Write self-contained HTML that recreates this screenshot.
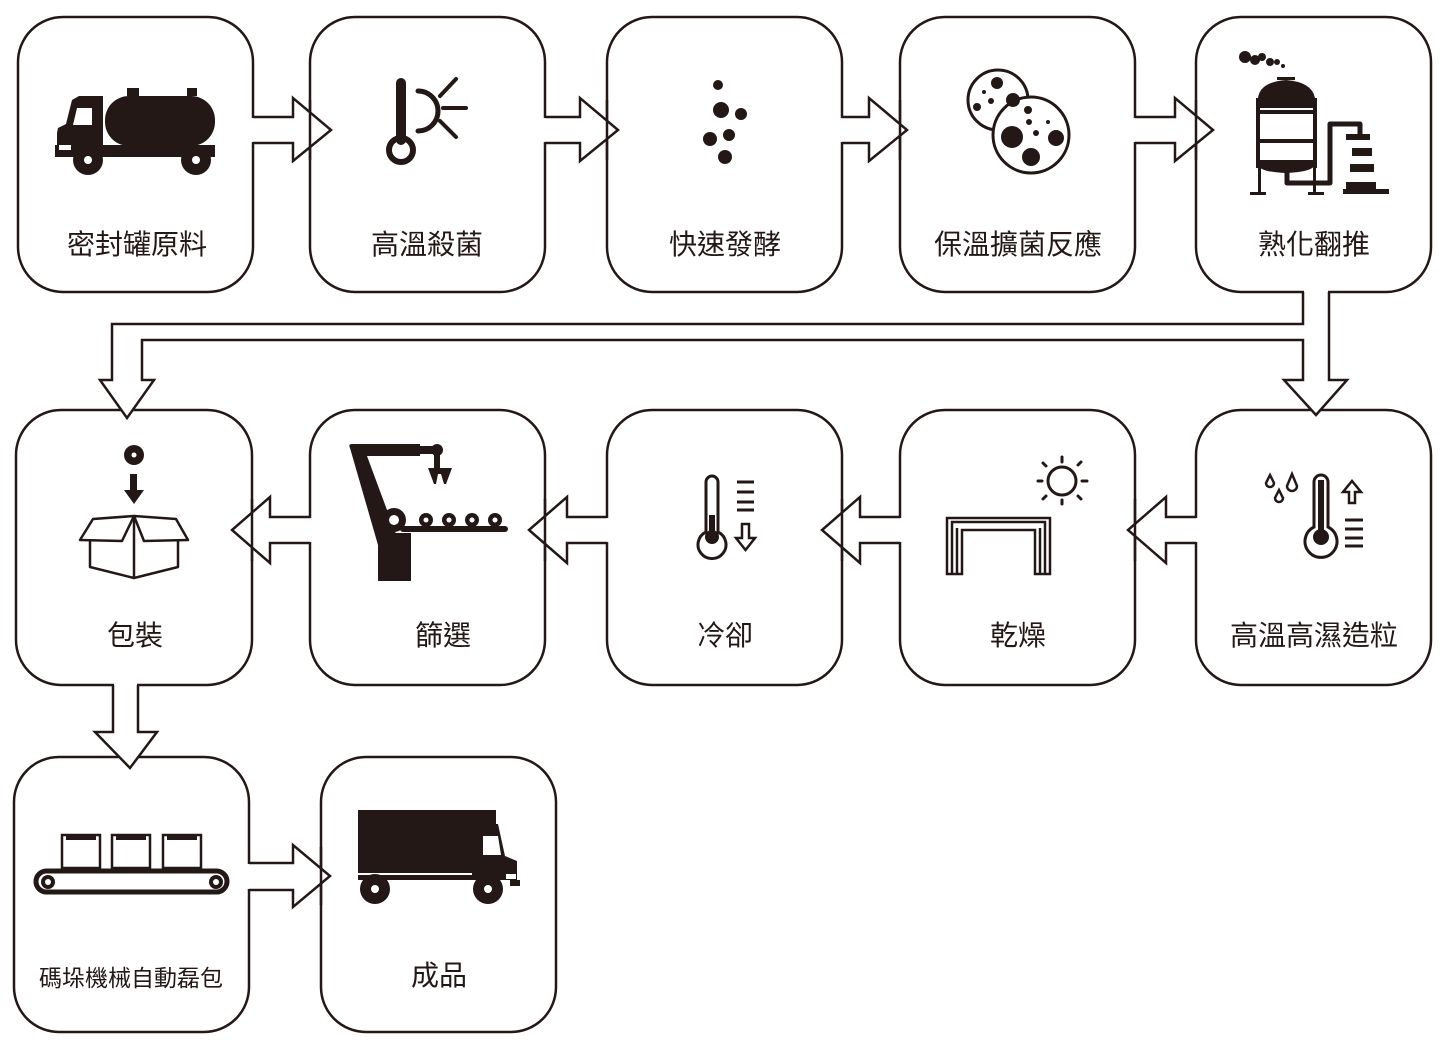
<!DOCTYPE html>
<html><head><meta charset="utf-8"><style>
html,body{margin:0;padding:0;background:#fff}
svg{display:block}
text{font-family:"Liberation Sans","Noto Sans CJK TC",sans-serif;fill:#231815;text-anchor:middle}
</style></head><body>
<svg width="1446" height="1050" viewBox="0 0 1446 1050" xmlns="http://www.w3.org/2000/svg">
<g fill="#fff" stroke="#231815" stroke-width="2.5">
<rect x="18" y="17" width="235" height="275" rx="45"/>
<rect x="310" y="17" width="235" height="275" rx="45"/>
<rect x="607" y="17" width="235" height="275" rx="45"/>
<rect x="900" y="17" width="235" height="275" rx="45"/>
<rect x="1196" y="17" width="235" height="275" rx="45"/>
<rect x="16" y="410" width="236" height="275" rx="45"/>
<rect x="310" y="410" width="235" height="275" rx="45"/>
<rect x="607" y="410" width="235" height="275" rx="45"/>
<rect x="900" y="410" width="235" height="275" rx="45"/>
<rect x="1196" y="410" width="235" height="275" rx="45"/>
<rect x="14" y="757" width="235" height="275" rx="45"/>
<rect x="321" y="757" width="235" height="275" rx="45"/>
</g>
<!-- arrow fills -->
<g fill="#fff" stroke="none">
<polygon points="250,118 293,118 293,98 331,130 293,161 293,142 250,142"/>
<polygon points="542,118 580,118 580,98 618,130 580,161 580,142 542,142"/>
<polygon points="839,118 869,118 869,98 907,130 869,161 869,142 839,142"/>
<polygon points="1132,118 1175,118 1175,98 1213,130 1175,161 1175,142 1132,142"/>
<polygon points="313,518 270,518 270,497 232,530 270,563 270,542 313,542"/>
<polygon points="610,518 567,518 567,497 529,530 567,563 567,542 610,542"/>
<polygon points="903,518 860,518 860,497 822,530 860,563 860,542 903,542"/>
<polygon points="1199,518 1166,518 1166,497 1128,530 1166,563 1166,542 1199,542"/>
<polygon points="114,682 137,682 137,732 157,732 130,768 95,732 114,732"/>
<polygon points="1304,288 1328,288 1328,380 1347,380 1316,415 1284,380 1304,380 1304,339 141,339 141,380 154,380 127,418 100,380 113,380 113,325 1304,325"/>
<polygon points="246,864 293,864 293,845 330,876 293,907 293,889 246,889"/>
</g>
<!-- arrow strokes -->
<g fill="none" stroke="#231815" stroke-width="2.5" stroke-linejoin="miter">
<polyline points="253,117 293,117 293,98 331,130 293,161 293,143 253,143"/>
<polyline points="545,117 580,117 580,98 618,130 580,161 580,143 545,143"/>
<polyline points="842,117 869,117 869,98 907,130 869,161 869,143 842,143"/>
<polyline points="1135,117 1175,117 1175,98 1213,130 1175,161 1175,143 1135,143"/>
<polyline points="310,517 270,517 270,497 232,530 270,563 270,543 310,543"/>
<polyline points="607,517 567,517 567,497 529,530 567,563 567,543 607,543"/>
<polyline points="900,517 860,517 860,497 822,530 860,563 860,543 900,543"/>
<polyline points="1196,517 1166,517 1166,497 1128,530 1166,563 1166,543 1196,543"/>
<polyline points="113,685 113,732 95,732 130,768 157,732 138,732 138,685"/>
<polyline points="1303,292 1303,324 112,324 112,380 100,380 127,418 154,380 142,380 142,340 1303,340 1303,380 1284,380 1316,415 1347,380 1329,380 1329,292"/>
<polyline points="249,863 293,863 293,845 330,876 293,907 293,890 249,890"/>
</g>
<!-- box edges showing through arrowheads -->
<g stroke="#231815" stroke-width="2.5">
<line x1="310" y1="100" x2="310" y2="160"/><line x1="607" y1="100" x2="607" y2="160"/>
<line x1="900" y1="100" x2="900" y2="160"/><line x1="1196" y1="100" x2="1196" y2="160"/>
<line x1="252" y1="499" x2="252" y2="561"/><line x1="545" y1="499" x2="545" y2="561"/>
<line x1="842" y1="499" x2="842" y2="561"/><line x1="1135" y1="499" x2="1135" y2="561"/>
<line x1="321" y1="847" x2="321" y2="905"/>
</g>

<g font-size="28">
<text x="137" y="254">密封罐原料</text>
<text x="427" y="254">高溫殺菌</text>
<text x="725" y="254">快速發酵</text>
<text x="1018" y="254">保溫擴菌反應</text>
<text x="1314" y="254">熟化翻推</text>
<text x="135" y="645">包裝</text>
<text x="443" y="645">篩選</text>
<text x="725" y="645">冷卻</text>
<text x="1018" y="645">乾燥</text>
<text x="1314" y="645">高溫高濕造粒</text>
<text x="439" y="985">成品</text>
</g>
<text x="131" y="986" font-size="23">碼垛機械自動磊包</text>

<g fill="#231815" stroke="none">
<rect x="105" y="96" width="110" height="50" rx="24"/>
<rect x="127" y="88" width="12" height="8"/><rect x="187" y="88" width="10" height="8"/>
<path d="M79 96 H103 V148 H57 V133 L58 128 L66 124 L72 100 Z"/>
<rect x="55" y="145" width="160" height="12"/>
<circle cx="88" cy="160" r="15"/><circle cx="196" cy="160" r="15"/>
</g>
<g fill="#fff"><path d="M77 108 H92 V125 H73 Z"/><rect x="59" y="145" width="12" height="5"/><circle cx="88" cy="160" r="4"/><circle cx="196" cy="160" r="4"/></g>

<g stroke="#231815" fill="none" stroke-linecap="round">
<line x1="401" y1="83" x2="401" y2="140" stroke-width="10"/>
<circle cx="401" cy="150" r="12" stroke-width="6"/>
<path d="M418 91 A20 20 0 0 1 418 131" stroke-width="5"/>
<line x1="440" y1="96" x2="456" y2="79" stroke-width="4"/>
<line x1="443" y1="108" x2="466" y2="108" stroke-width="4"/>
<line x1="440" y1="121" x2="456" y2="137" stroke-width="4"/>
</g>

<g fill="#231815">
<circle cx="718" cy="85" r="5"/><circle cx="721" cy="110" r="8"/><circle cx="741" cy="114" r="6"/>
<circle cx="710" cy="139" r="7"/><circle cx="729" cy="135" r="6"/><circle cx="725" cy="157" r="7"/>
</g>

<g stroke="#231815" stroke-width="3" fill="#fff">
<circle cx="998" cy="100" r="30"/>
<circle cx="1031" cy="135" r="38"/>
</g>
<g fill="#231815">
<circle cx="997" cy="83" r="6"/><circle cx="984" cy="92" r="2"/><circle cx="991" cy="101" r="3"/><circle cx="977" cy="107" r="4"/><circle cx="1013" cy="100" r="7"/>
<circle cx="1028" cy="110" r="4"/><circle cx="1029" cy="122" r="3"/><circle cx="1048" cy="122" r="2"/><circle cx="1012" cy="137" r="11"/><circle cx="1036" cy="133" r="3"/><circle cx="1056" cy="138" r="8"/><circle cx="1031" cy="157" r="9"/>
</g>

<g fill="#231815">
<circle cx="1245" cy="57" r="6"/><circle cx="1255" cy="60" r="5"/><circle cx="1262" cy="57" r="4"/><circle cx="1270" cy="62" r="4"/><circle cx="1277" cy="62" r="3"/><circle cx="1283" cy="66" r="2"/>
<rect x="1277" y="77" width="18" height="3"/>
<path d="M1258 98 Q1260 82 1286 80 Q1312 82 1315 98 V108 H1258 Z"/>
<rect x="1258" y="110" width="57" height="4"/><rect x="1258" y="139" width="57" height="4"/>
<path d="M1258 160 H1315 V165 Q1312 172 1286 173 Q1260 172 1258 165 Z"/>
<rect x="1256" y="98" width="4" height="70"/><rect x="1313" y="98" width="4" height="70"/>
<rect x="1258" y="160" width="3" height="33"/><rect x="1313" y="160" width="3" height="33"/>
<rect x="1250" y="192" width="16" height="3"/><rect x="1308" y="192" width="16" height="3"/>
<rect x="1346" y="134" width="24" height="6"/><rect x="1352" y="148" width="20" height="8"/><rect x="1350" y="164" width="24" height="8"/><rect x="1346" y="182" width="30" height="8"/><rect x="1343" y="189" width="46" height="5"/>
</g>
<path d="M1287 172 V183 H1330 V124 H1360 V134" stroke="#231815" stroke-width="5" fill="none" stroke-linejoin="round"/>

<g fill="#231815"><circle cx="134" cy="455" r="10"/><rect x="130" y="474" width="7" height="18"/><polygon points="124,490 144,490 134,504"/></g>
<circle cx="134" cy="455" r="2.5" fill="#fff"/>
<g stroke="#231815" stroke-width="2.5" fill="none" stroke-linejoin="round">
<path d="M90 540 V567 L134 578 L178 567 V540"/>
<path d="M134 515 V578"/>
<path d="M93 519 L134 516 L176 519 L188 540 L144 541 L134 516 L122 541 L80 540 Z"/>
</g>

<g fill="#231815">
<path d="M350 448 Q348 444 352 444 H420 V456 H367 L400 545 H378 Z"/>
<rect x="418" y="446" width="16" height="8"/><circle cx="437" cy="450" r="6"/>
<rect x="434" y="452" width="6" height="18"/>
<path d="M428 468 H452 L446 484 H444 L441 474 H438 L436 484 H434 Z"/>
<rect x="378" y="533" width="33" height="48"/>
<circle cx="394" cy="520" r="12"/>
<rect x="400" y="526" width="108" height="6" rx="3"/>
<circle cx="426" cy="520" r="7"/><circle cx="449" cy="520" r="7"/><circle cx="472" cy="520" r="7"/><circle cx="495" cy="520" r="7"/>
</g>
<g fill="#fff"><circle cx="394" cy="520" r="5"/><circle cx="426" cy="520" r="2.5"/><circle cx="449" cy="520" r="2.5"/><circle cx="472" cy="520" r="2.5"/><circle cx="495" cy="520" r="2.5"/></g>

<g stroke="#231815" fill="none" stroke-width="3">
<path d="M706 532 V482 A6 6 0 0 1 718 482 V532 A14 14 0 1 1 706 532 Z"/>
<line x1="737" y1="482" x2="754" y2="482"/><line x1="737" y1="492" x2="754" y2="492"/><line x1="737" y1="502" x2="754" y2="502"/><line x1="737" y1="510" x2="754" y2="510"/>
<path d="M742 524 H749 V538 H755 L745.5 550 L736 538 H742 Z" stroke-width="2.5"/>
</g>
<g fill="#231815"><rect x="709" y="515" width="6" height="20"/><circle cx="712" cy="537" r="7"/></g>

<g stroke="#231815" stroke-width="3" fill="none" stroke-linecap="round">
<circle cx="1062" cy="481" r="14"/>
<line x1="1062" y1="457" x2="1062" y2="462"/><line x1="1062" y1="500" x2="1062" y2="504"/>
<line x1="1038" y1="481" x2="1042" y2="481"/><line x1="1082" y1="481" x2="1087" y2="481"/>
<line x1="1043" y1="463" x2="1046" y2="466"/><line x1="1078" y1="465" x2="1081" y2="462"/>
<line x1="1043" y1="499" x2="1046" y2="496"/><line x1="1078" y1="496" x2="1081" y2="499"/>
</g>
<g stroke="#231815" stroke-width="2.5" fill="none">
<path d="M947 574 V518 H1050 V574 H1035 V530 H962 V574 Z"/>
<path d="M952 574 V522 H1045 V574 M957 574 V528 M1040 574 V528"/>
</g>

<g stroke="#231815" fill="none" stroke-width="3">
<path d="M1314 527 V482 A7 7 0 0 1 1328 482 V527 A16 16 0 1 1 1314 527 Z"/>
<line x1="1345" y1="520" x2="1363" y2="520"/><line x1="1345" y1="529" x2="1363" y2="529"/><line x1="1345" y1="538" x2="1363" y2="538"/><line x1="1345" y1="546" x2="1363" y2="546"/>
<path d="M1349 503 V492 H1343 L1352 481 L1361 492 H1355 V503 Z" stroke-width="2.5"/>
<path d="M1270 475 L1266 483 A4 4 0 1 0 1274 483 Z" stroke-width="2.5"/>
<path d="M1292 474 L1287 486 A5 5 0 1 0 1297 486 Z" stroke-width="2.5"/>
<path d="M1279 490 L1275 498 A4 4 0 1 0 1283 498 Z" stroke-width="2.5"/>
</g>
<g fill="#231815"><rect x="1318" y="480" width="6" height="50"/><circle cx="1321" cy="537" r="8"/></g>

<g stroke="#231815" stroke-width="2.5" fill="#fff">
<rect x="62" y="835" width="38" height="33"/><rect x="112" y="835" width="38" height="33"/><rect x="163" y="835" width="38" height="33"/>
</g>
<g fill="#231815"><rect x="66" y="835" width="30" height="5"/><rect x="116" y="835" width="30" height="5"/><rect x="167" y="835" width="30" height="5"/></g>
<rect x="36" y="871" width="191" height="21" rx="10.5" fill="#fff" stroke="#231815" stroke-width="5"/>
<line x1="50" y1="872" x2="213" y2="872" stroke="#231815" stroke-width="2"/>
<g fill="#231815"><circle cx="48" cy="882" r="7"/><circle cx="216" cy="882" r="7"/></g>
<g fill="#fff"><circle cx="48" cy="882" r="3"/><circle cx="216" cy="882" r="3"/></g>

<g fill="#231815">
<rect x="358" y="810" width="138" height="63"/>
<path d="M472 824 H498 L505 856 L517 861 V880 H358 V875 H472 Z"/>
<rect x="510" y="880" width="10" height="6"/>
<circle cx="375" cy="889" r="15"/><circle cx="488" cy="889" r="15"/>
</g>
<g fill="#fff"><path d="M483 836 H498 L501 855 H483 Z"/><rect x="506" y="874" width="10" height="5"/><circle cx="375" cy="889" r="4"/><circle cx="488" cy="889" r="4"/></g>
</svg>
</body></html>
